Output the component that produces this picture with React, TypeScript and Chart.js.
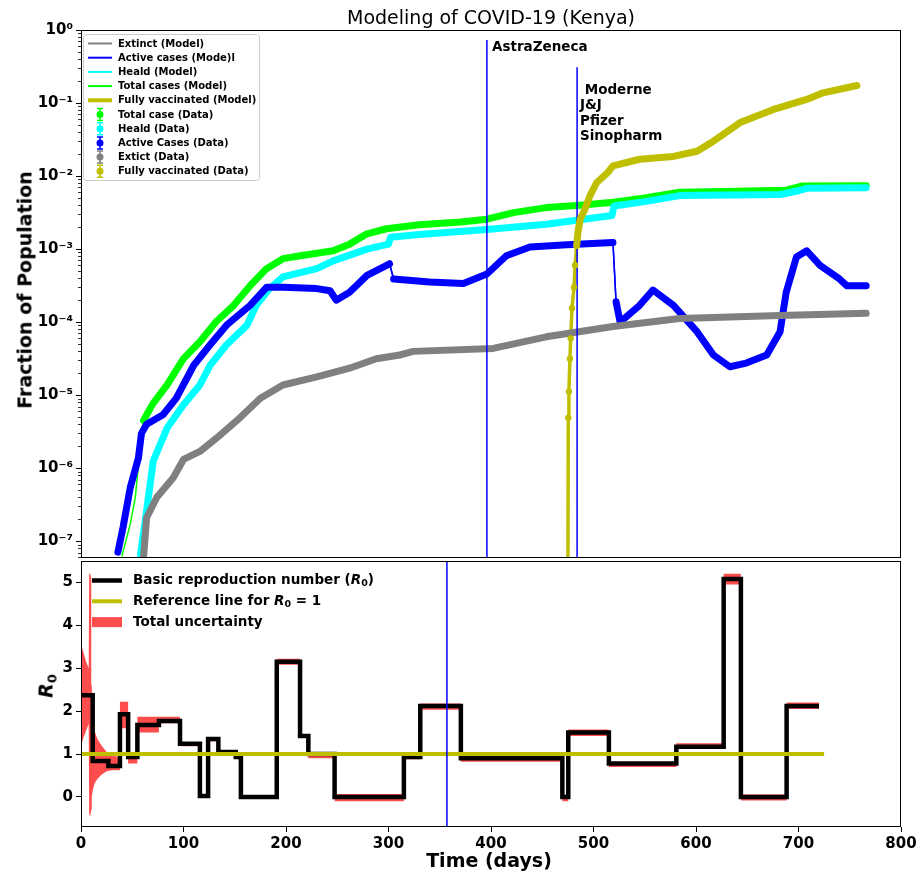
import React, { useEffect, useRef } from 'react';
import { Chart, registerables } from 'chart.js';

Chart.register(...registerables);

const FONT = '"DejaVu Sans", Verdana, sans-serif';
Chart.defaults.font.family = FONT;

const GREY = '#808080';
const BLUE = '#0000ff';
const CYAN = '#00ffff';
const LIME = '#00ff00';
const OLIVE = '#bfbf00';
const RED_BAND = 'rgba(255,0,0,0.7)';
const CLEAR = 'rgba(0,0,0,0)';

// ---------------- top panel data (fraction of population) ----------------
const totalDays = [40, 48, 53, 59, 61, 70, 84, 100, 116, 132, 149, 165, 181, 197, 214, 246, 262, 279, 298, 330, 370, 396, 422, 454, 487, 519, 550, 584, 640, 688, 703, 766];
const totalCases = [6.3e-8, 1.7e-7, 4.0e-7, 2.9e-6, 4.5e-6, 7.6e-6, 1.38e-5, 3.16e-5, 5.4e-5, 1.02e-4, 1.7e-4, 3.16e-4, 5.4e-4, 7.4e-4, 8.1e-4, 9.5e-4, 1.17e-3, 1.62e-3, 1.9e-3, 2.15e-3, 2.35e-3, 2.57e-3, 3.16e-3, 3.7e-3, 3.98e-3, 4.37e-3, 5.0e-3, 6.0e-3, 6.2e-3, 6.4e-3, 7.3e-3, 7.4e-3];

const healDays = [58, 64, 70.5, 84, 100, 116, 126, 142, 162, 171, 184, 197, 230, 246, 279, 300, 302, 330, 396, 454, 518, 520, 550, 584, 682, 700, 708, 766];
const healed = [6.6e-8, 2.6e-7, 1.26e-6, 3.55e-6, 7.4e-6, 1.38e-5, 2.57e-5, 4.9e-5, 9.1e-5, 1.7e-4, 2.88e-4, 4.17e-4, 5.4e-4, 6.9e-4, 1.0e-3, 1.17e-3, 1.45e-3, 1.58e-3, 1.86e-3, 2.19e-3, 2.88e-3, 3.89e-3, 4.47e-3, 5.4e-3, 5.6e-3, 6.3e-3, 6.8e-3, 6.9e-3];

const activeDays = [36, 41, 48, 56, 59, 64, 80, 93, 110, 126, 142, 165, 181, 197, 230, 243, 249, 262, 279, 301, 305, 340, 373, 396, 415, 438, 474, 519, 522, 526, 545, 558, 578, 601, 617, 633, 649, 669, 682, 688, 698, 708, 721, 740, 747, 766];
const active = [7.1e-8, 1.55e-7, 5.4e-7, 1.38e-6, 3.0e-6, 4.0e-6, 5.4e-6, 9.1e-6, 2.57e-5, 4.9e-5, 9.1e-5, 1.7e-4, 3.0e-4, 3.0e-4, 2.88e-4, 2.69e-4, 2.0e-4, 2.57e-4, 4.37e-4, 6.3e-4, 3.9e-4, 3.55e-4, 3.39e-4, 4.57e-4, 8.1e-4, 1.07e-3, 1.15e-3, 1.23e-3, 1.9e-4, 1.0e-4, 1.7e-4, 2.75e-4, 1.7e-4, 7.4e-5, 3.55e-5, 2.45e-5, 2.75e-5, 3.55e-5, 7.4e-5, 2.57e-4, 7.8e-4, 9.5e-4, 6.0e-4, 3.9e-4, 3.16e-4, 3.16e-4];
const activeBreakDays = [301, 519];

const extinctDays = [61, 64, 74, 90, 100, 116, 132, 155, 175, 197, 230, 262, 288, 311, 324, 402, 454, 519, 584, 682, 766];
const extinct = [6.0e-8, 2.1e-7, 4.0e-7, 7.4e-7, 1.32e-6, 1.7e-6, 2.57e-6, 4.9e-6, 9.1e-6, 1.38e-5, 1.78e-5, 2.34e-5, 3.16e-5, 3.55e-5, 3.98e-5, 4.37e-5, 6.3e-5, 8.7e-5, 1.12e-4, 1.23e-4, 1.32e-4];

const vaccDays = [475, 475.4, 476, 477, 477.7, 479, 481, 482, 483.6, 485, 487, 491.7, 496.6, 503, 514, 519, 545, 578, 601, 617, 643, 675, 708, 724, 757];
const vaccinated = [2.5e-8, 4.9e-6, 1.12e-5, 3.16e-5, 6.0e-5, 1.55e-4, 3.0e-4, 6.0e-4, 1.12e-3, 1.78e-3, 2.57e-3, 3.55e-3, 5.4e-3, 8.1e-3, 1.12e-2, 1.38e-2, 1.7e-2, 1.86e-2, 2.19e-2, 3.0e-2, 5.4e-2, 8.1e-2, 0.112, 0.138, 0.174];

const vaccineLineDays = [396, 484];
const vaccineLineTops = [0.73, 0.31];

const logTickValues = [1e-7, 1e-6, 1e-5, 1e-4, 1e-3, 1e-2, 1e-1, 1];
const logTickLabels = ['10⁻⁷', '10⁻⁶', '10⁻⁵', '10⁻⁴', '10⁻³', '10⁻²', '10⁻¹', '10⁰'];
const topYMin = 5.9e-8;
const topYMax = 1;

// ---------------- bottom panel data (R0) ----------------
const r0Days = [0, 11.4, 26.7, 38, 46, 55, 76, 96.6, 116, 124, 134, 151, 156, 191, 213.7, 221.8, 247.4, 315, 331, 370.6, 469.6, 475.4, 515, 580.8, 627, 643.8, 688.4, 720];
const r0Values = [2.37, 0.84, 0.72, 1.93, 0.93, 1.68, 1.77, 1.24, 0.02, 1.35, 1.05, 0.93, 0.0, 3.15, 1.42, 1.0, 0.0, 0.93, 2.12, 0.9, 0.0, 1.5, 0.78, 1.17, 5.08, 0.0, 2.12, 2.12];
const bandUpper = [2.37, 0.84, 0.72, 2.22, 1.05, 1.87, 1.87, 1.27, 0.05, 1.37, 1.08, 0.95, 0.03, 3.22, 1.45, 1.05, 0.07, 0.96, 2.18, 0.92, 0.05, 1.57, 0.8, 1.25, 5.2, 0.06, 2.2, 2.2];
const bandLower = [2.37, 0.84, 0.72, 1.6, 0.78, 1.5, 1.72, 1.18, -0.02, 1.3, 1.0, 0.9, -0.03, 3.08, 1.38, 0.9, -0.1, 0.88, 2.03, 0.82, -0.1, 1.42, 0.7, 1.12, 4.95, -0.08, 2.05, 2.05];

const spikeDays = [0, 2, 5, 7.5, 8, 9, 10, 10.5, 11.5, 13, 16, 20, 25, 30, 34, 38];
const spikeUpper = [3.55, 3.4, 3.15, 3.0, 5.2, 5.2, 5.1, 2.6, 1.75, 1.55, 1.35, 1.2, 1.05, 0.98, 0.95, 0.92];
const spikeLower = [1.2, 1.35, 1.55, 1.7, -0.4, -0.45, -0.3, 0.0, 0.15, 0.3, 0.42, 0.52, 0.6, 0.62, 0.62, 0.62];

const refDays = [0, 725];
const refValues = [1, 1];
const bottomLineDay = 357;

const dayTicks = [0, 100, 200, 300, 400, 500, 600, 700, 800];
const r0Ticks = [0, 1, 2, 3, 4, 5];
const r0Min = -0.7;
const r0Max = 5.5;

const xy = (xs: number[], ys: number[]) => xs.map((x, i) => ({ x, y: ys[i] }));

const framePlugin = {
  id: 'frame',
  afterDatasetsDraw(chart: any) {
    const { ctx, chartArea: a } = chart;
    ctx.save();
    ctx.strokeStyle = '#000';
    ctx.lineWidth = 1;
    ctx.strokeRect(a.left + 0.5, a.top + 0.5, a.right - a.left - 1, a.bottom - a.top - 1);
    ctx.restore();
  },
};

const minorTickPlugin = {
  id: 'minorTicks',
  afterDraw(chart: any) {
    const s = chart.scales.y;
    const ctx = chart.ctx;
    ctx.save();
    ctx.strokeStyle = '#000';
    ctx.lineWidth = 0.8;
    for (let k = -8; k < 0; k++) {
      for (let m = 2; m <= 9; m++) {
        const v = m * Math.pow(10, k);
        if (v < s.min || v > s.max) continue;
        const y = Math.round(s.getPixelForValue(v)) + 0.5;
        ctx.beginPath();
        ctx.moveTo(s.right - 3, y);
        ctx.lineTo(s.right, y);
        ctx.stroke();
      }
    }
    ctx.restore();
  },
};

const topLegendPlugin = {
  id: 'topLegend',
  afterDraw(chart: any) {
    const ctx = chart.ctx;
    const a = chart.chartArea;
    const items = chart.data.datasets.filter((d: any) => d.legendKind);
    const bx = a.left + 2.5;
    const by = a.top + 4.5;
    const rowH = 14.2;
    const w = 176;
    const h = items.length * rowH + 4;
    ctx.save();
    ctx.beginPath();
    ctx.roundRect(bx, by, w, h, 3);
    ctx.fillStyle = 'rgba(255,255,255,0.8)';
    ctx.fill();
    ctx.strokeStyle = '#cccccc';
    ctx.lineWidth = 1;
    ctx.stroke();
    ctx.font = `bold 10px ${FONT}`;
    ctx.textBaseline = 'middle';
    items.forEach((d: any, i: number) => {
      const cy = by + 9 + i * rowH;
      const col = d.legendColor;
      if (d.legendKind === 'line' || d.legendKind === 'thick') {
        ctx.strokeStyle = col;
        ctx.lineWidth = d.legendKind === 'thick' ? 4 : 2;
        ctx.beginPath();
        ctx.moveTo(a.left + 7, cy);
        ctx.lineTo(a.left + 31, cy);
        ctx.stroke();
      } else {
        const mx = a.left + 19;
        ctx.strokeStyle = col;
        ctx.lineWidth = 1.5;
        ctx.beginPath();
        ctx.moveTo(mx, cy - 6);
        ctx.lineTo(mx, cy + 6);
        ctx.moveTo(mx - 3, cy - 6);
        ctx.lineTo(mx + 3, cy - 6);
        ctx.moveTo(mx - 3, cy + 6);
        ctx.lineTo(mx + 3, cy + 6);
        ctx.stroke();
        ctx.fillStyle = col;
        ctx.beginPath();
        ctx.arc(mx, cy, 3.5, 0, Math.PI * 2);
        ctx.fill();
      }
      ctx.fillStyle = '#000';
      ctx.fillText(d.label, a.left + 37, cy + 0.5);
    });
    ctx.restore();
  },
};

const bottomLegendPlugin = {
  id: 'bottomLegend',
  afterDraw(chart: any) {
    const ctx = chart.ctx;
    const a = chart.chartArea;
    const items = chart.data.datasets.filter((d: any) => d.legendKind);
    ctx.save();
    ctx.textBaseline = 'middle';
    items.forEach((d: any, i: number) => {
      const cy = a.top + 19.5 + i * 20.8;
      if (d.legendKind === 'patch') {
        ctx.fillStyle = d.backgroundColor;
        ctx.fillRect(a.left + 11, cy - 5, 30, 10);
      } else {
        ctx.strokeStyle = d.borderColor;
        ctx.lineWidth = d.borderWidth;
        ctx.beginPath();
        ctx.moveTo(a.left + 11, cy);
        ctx.lineTo(a.left + 41, cy);
        ctx.stroke();
      }
      let x = a.left + 52;
      ctx.fillStyle = '#000';
      (d.legendRich as [string, string][]).forEach(([t, st]) => {
        let dy = 0;
        if (st === 'bi') ctx.font = `italic bold 13.5px ${FONT}`;
        else if (st === 'sub') { ctx.font = `bold 9.5px ${FONT}`; dy = 3; }
        else ctx.font = `bold 13.5px ${FONT}`;
        ctx.fillText(t, x, cy + dy);
        x += ctx.measureText(t).width;
      });
    });
    ctx.restore();
  },
};

function topConfig(): any {
  const model = (label: string, xs: number[], ys: number[], color: string, width: number, kind: string, order: number) => ({
    label, data: xy(xs, ys), borderColor: color, backgroundColor: color, borderWidth: width,
    pointRadius: 0, fill: false, tension: 0, clip: 0, legendKind: kind, legendColor: color, order,
    borderJoinStyle: 'round', borderCapStyle: 'round',
  });
  const data = (label: string, xs: number[], ys: number[], color: string, order: number, extra: any = {}) => ({
    label, data: xy(xs, ys), borderColor: color, backgroundColor: color, borderWidth: 7,
    pointRadius: 0, fill: false, tension: 0, clip: 0, legendKind: 'bar', legendColor: color, order,
    borderJoinStyle: 'round', borderCapStyle: 'round', ...extra,
  });
  const vline = (i: number, order: number) => ({
    label: 'v' + i, data: [{ x: vaccineLineDays[i], y: vaccineLineTops[i] }, { x: vaccineLineDays[i], y: 1e-10 }],
    borderColor: BLUE, borderWidth: 1.5, pointRadius: 0, fill: false, clip: 0, order,
  });
  return {
    type: 'line',
    data: {
      datasets: [
        model('Extinct (Model)', extinctDays, extinct, GREY, 1.5, 'line', 50),
        model('Active cases (Mode)l', activeDays, active, BLUE, 1.5, 'line', 49),
        model('Heald (Model)', healDays, healed, CYAN, 1.5, 'line', 48),
        model('Total cases (Model)', totalDays, totalCases, LIME, 1.5, 'line', 47),
        model('Fully vaccinated (Model)', vaccDays, vaccinated, OLIVE, 3.5, 'thick', 46),
        data('Total case (Data)', totalDays, totalCases, LIME, 40, {
          segment: { borderColor: (c: any) => (c.p0.parsed.y < 3e-6 ? CLEAR : LIME) },
        }),
        data('Heald (Data)', healDays, healed, CYAN, 39),
        data('Active Cases (Data)', activeDays, active, BLUE, 38, {
          segment: { borderWidth: (c: any) => (activeBreakDays.includes(c.p0.parsed.x) ? 1.5 : 7) },
        }),
        data('Extict (Data)', extinctDays, extinct, GREY, 37),
        vline(0, 36),
        vline(1, 35),
        data('Fully vaccinated (Data)', vaccDays, vaccinated, OLIVE, 30, {
          segment: { borderColor: (c: any) => (c.p1.parsed.y < 1.5e-3 ? CLEAR : OLIVE) },
          pointRadius: (c: any) => (c.raw && c.raw.y < 1.5e-3 ? 3.2 : 0),
          pointBorderWidth: 0,
        }),
      ],
    },
    options: {
      responsive: false,
      animation: false,
      events: [],
      layout: { padding: { left: 0, right: 19, top: 30, bottom: 1 } },
      plugins: { legend: { display: false }, tooltip: { enabled: false }, title: { display: false } },
      scales: {
        x: { type: 'linear', min: 0, max: 800, display: false },
        y: {
          type: 'logarithmic',
          min: topYMin,
          max: topYMax,
          afterBuildTicks: (s: any) => { s.ticks = logTickValues.map((v) => ({ value: v })); },
          afterFit: (s: any) => { s.width = 81; s.paddingTop = 0; s.paddingBottom = 0; },
          ticks: {
            autoSkip: false,
            padding: 3,
            color: '#000',
            font: { size: 15, weight: 'bold', family: FONT },
            callback: (v: number) => {
              const i = logTickValues.findIndex((t) => Math.abs(Math.log10(t) - Math.log10(v)) < 1e-6);
              return i >= 0 ? logTickLabels[i] : '';
            },
          },
          grid: { display: true, drawOnChartArea: false, drawTicks: true, tickLength: 5, tickColor: '#000', tickWidth: 1 },
          border: { display: false },
        },
      },
    },
    plugins: [framePlugin, minorTickPlugin, topLegendPlugin],
  };
}

function bottomConfig(): any {
  return {
    type: 'line',
    data: {
      datasets: [
        {
          label: 'Basic reproduction number (R0)', data: xy(r0Days, r0Values), stepped: 'before',
          borderColor: '#000', borderWidth: 4.5, pointRadius: 0, fill: false, clip: 0, order: 2,
          legendKind: 'line', legendRich: [['Basic reproduction number (', 'b'], ['R', 'bi'], ['0', 'sub'], [')', 'b']],
        },
        {
          label: 'Reference line for R0 = 1', data: xy(refDays, refValues),
          borderColor: OLIVE, borderWidth: 4, pointRadius: 0, fill: false, clip: 0, order: 1,
          legendKind: 'line', legendRich: [['Reference line for ', 'b'], ['R', 'bi'], ['0', 'sub'], [' = 1', 'b']],
        },
        {
          label: 'band upper', data: xy(r0Days, bandUpper), stepped: 'before',
          borderColor: CLEAR, borderWidth: 0, pointRadius: 0, fill: false, clip: 0, order: 10,
        },
        {
          label: 'Total uncertainty', data: xy(r0Days, bandLower), stepped: 'before',
          borderColor: CLEAR, borderWidth: 0, pointRadius: 0, backgroundColor: RED_BAND, fill: '-1', clip: 0, order: 10,
          legendKind: 'patch', legendRich: [['Total uncertainty', 'b']],
        },
        {
          label: 'spike upper', data: xy(spikeDays, spikeUpper),
          borderColor: CLEAR, borderWidth: 0, pointRadius: 0, fill: false, clip: 0, order: 11,
        },
        {
          label: 'spike lower', data: xy(spikeDays, spikeLower),
          borderColor: CLEAR, borderWidth: 0, pointRadius: 0, backgroundColor: RED_BAND, fill: '-1', clip: 0, order: 11,
        },
        {
          label: 'marker', data: [{ x: bottomLineDay, y: -10 }, { x: bottomLineDay, y: 10 }],
          borderColor: BLUE, borderWidth: 1.5, pointRadius: 0, fill: false, clip: 0, order: 0,
        },
      ],
    },
    options: {
      responsive: false,
      animation: false,
      events: [],
      layout: { padding: { left: 0, right: 19, top: 0, bottom: 0 } },
      plugins: { legend: { display: false }, tooltip: { enabled: false }, title: { display: false }, filler: { propagate: false } },
      scales: {
        x: {
          type: 'linear', min: 0, max: 800,
          afterBuildTicks: (s: any) => { s.ticks = dayTicks.map((v) => ({ value: v })); },
          afterFit: (s: any) => { s.height = 51; s.paddingLeft = 0; s.paddingRight = 0; },
          ticks: { autoSkip: false, maxRotation: 0, padding: 3, color: '#000', font: { size: 15, weight: 'bold', family: FONT } },
          grid: { display: true, drawOnChartArea: false, drawTicks: true, tickLength: 5, tickColor: '#000', tickWidth: 1 },
          border: { display: false },
        },
        y: {
          type: 'linear', min: r0Min, max: r0Max,
          afterBuildTicks: (s: any) => { s.ticks = r0Ticks.map((v) => ({ value: v })); },
          afterFit: (s: any) => { s.width = 81; s.paddingTop = 0; s.paddingBottom = 0; },
          ticks: { autoSkip: false, padding: 3, color: '#000', font: { size: 15, weight: 'bold', family: FONT } },
          grid: { display: true, drawOnChartArea: false, drawTicks: true, tickLength: 5, tickColor: '#000', tickWidth: 1 },
          border: { display: false },
        },
      },
    },
    plugins: [framePlugin, bottomLegendPlugin],
  };
}

const abs = (x: number, y: number, extra: any = {}): any => ({
  position: 'absolute', left: x, top: y, whiteSpace: 'nowrap', lineHeight: 1, fontFamily: FONT, color: '#000', ...extra,
});

export default function App() {
  const topRef = useRef<HTMLCanvasElement>(null);
  const botRef = useRef<HTMLCanvasElement>(null);
  useEffect(() => {
    const top = new Chart(topRef.current as HTMLCanvasElement, topConfig());
    const bot = new Chart(botRef.current as HTMLCanvasElement, bottomConfig());
    return () => { top.destroy(); bot.destroy(); };
  }, []);
  return (
    <div style={{ position: 'fixed', left: 0, top: 0, width: 920, height: 878, background: '#fff', overflow: 'hidden' }}>
      <canvas ref={topRef} width={920} height={562} style={{ position: 'absolute', left: 0, top: 0 }} />
      <canvas ref={botRef} width={920} height={317} style={{ position: 'absolute', left: 0, top: 561 }} />
      <div style={abs(491, 17, { transform: 'translate(-50%,-50%)', fontSize: 19 })}>Modeling of COVID-19 (Kenya)</div>
      <div style={abs(25, 290, { transform: 'translate(-50%,-50%) rotate(-90deg)', fontSize: 19, fontWeight: 'bold' })}>Fraction of Population</div>
      <div style={abs(46, 686, { transform: 'translate(-50%,-50%) rotate(-90deg)', fontSize: 19, fontWeight: 'bold' })}>
        <span style={{ fontStyle: 'italic' }}>R</span>
        <span style={{ fontSize: 13, position: 'relative', top: 4 }}>0</span>
      </div>
      <div style={abs(489, 860, { transform: 'translate(-50%,-50%)', fontSize: 19, fontWeight: 'bold' })}>Time (days)</div>
      <div style={abs(492, 47, { transform: 'translateY(-50%)', fontSize: 13.5, fontWeight: 'bold' })}>AstraZeneca</div>
      <div style={abs(580, 82, { fontSize: 13.5, fontWeight: 'bold', whiteSpace: 'pre', lineHeight: '15.3px' })}>{' Moderne\nJ&J\nPfizer\nSinopharm'}</div>
    </div>
  );
}
